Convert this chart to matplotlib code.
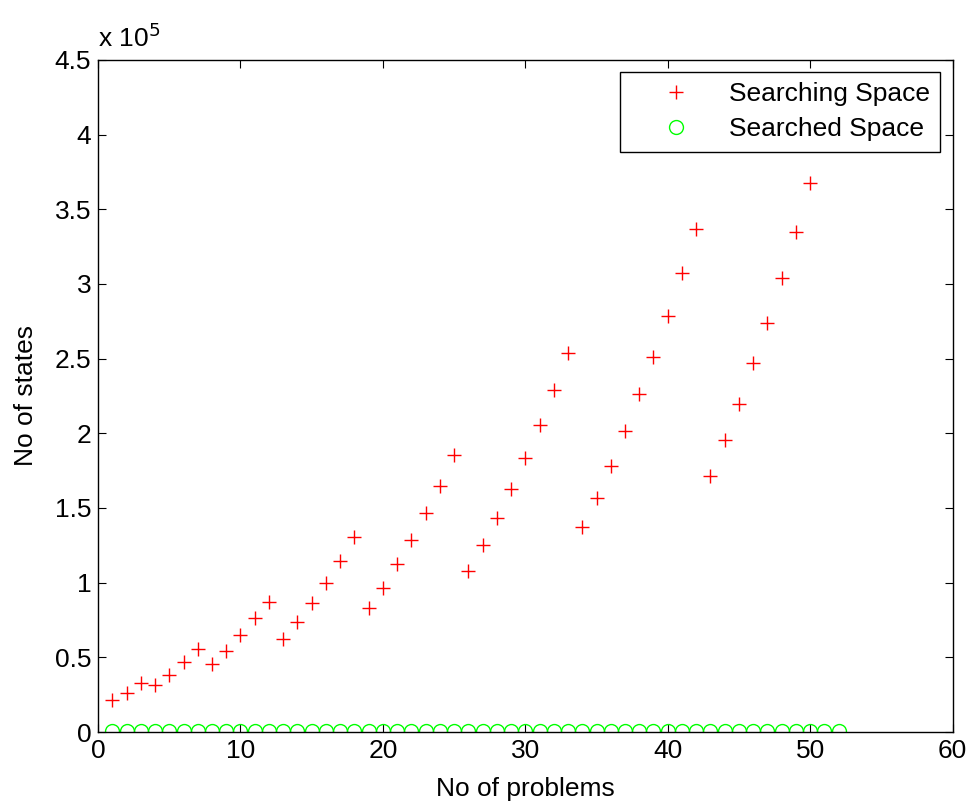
import numpy as np
import matplotlib
matplotlib.use("Agg")
import matplotlib.pyplot as plt
from matplotlib.ticker import FuncFormatter, MultipleLocator

plt.rcParams['font.family'] = ['Liberation Sans', 'DejaVu Sans']

# Searching space (no of states) for each problem
problems = list(range(1, 51))
searching = [
    21500, 25900, 32600, 31500, 38200, 46700, 55400, 45300, 54500, 64800,
    76200, 87300, 62100, 73900, 86200, 100000, 114700, 130400, 82900, 96700,
    112300, 128400, 146500, 164800, 185300, 107800, 125000, 143100, 162500, 183300,
    205600, 228800, 253600, 137500, 156900, 178400, 201600, 226400, 251400, 278800,
    307200, 336700, 171700, 195600, 219500, 246900, 274200, 303900, 334700, 367500,
]

# Searched space is tiny compared to the search space
searched_x = list(range(1, 53))
searched = [1000] * 52

FS = 19

fig = plt.figure(figsize=(9.71, 8.06), dpi=100)
ax = fig.add_axes([0.101, 0.0918, 0.880, 0.8338])

ax.plot(problems, searching, '+', color='#ff0000', markersize=10.5,
        markeredgewidth=1.0, linestyle='none', label='Searching Space')
ax.plot(searched_x, searched, 'o', color='#00ff00', markersize=10,
        markerfacecolor='none', markeredgewidth=1.0, linestyle='none',
        label='Searched Space')

ax.set_xlim(0, 60)
ax.set_ylim(0, 4.5e5)
ax.xaxis.set_major_locator(MultipleLocator(10))
ax.yaxis.set_major_locator(MultipleLocator(0.5e5))
ax.yaxis.set_major_formatter(FuncFormatter(lambda v, p: '%g' % (v / 1e5)))

ax.tick_params(direction='in', top=True, right=True, labelsize=FS,
               length=6, width=0.8, pad=5)
for s in ax.spines.values():
    s.set_linewidth(1.0)

ax.set_xlabel('No of problems', fontsize=FS, labelpad=10)
ax.set_ylabel('No of states', fontsize=FS, labelpad=12)
ax.text(0.0, 1.012, r'x 10$^{5}$', transform=ax.transAxes, fontsize=FS,
        ha='left', va='bottom')

leg = ax.legend(loc='upper right', fontsize=FS, handlelength=3.5,
                handletextpad=0.25, borderpad=0.38, labelspacing=0.42,
                fancybox=False, framealpha=1, edgecolor='black',
                borderaxespad=0.47)
leg.get_frame().set_linewidth(1.0)

fig.savefig('out.png', dpi=100, facecolor='white')
